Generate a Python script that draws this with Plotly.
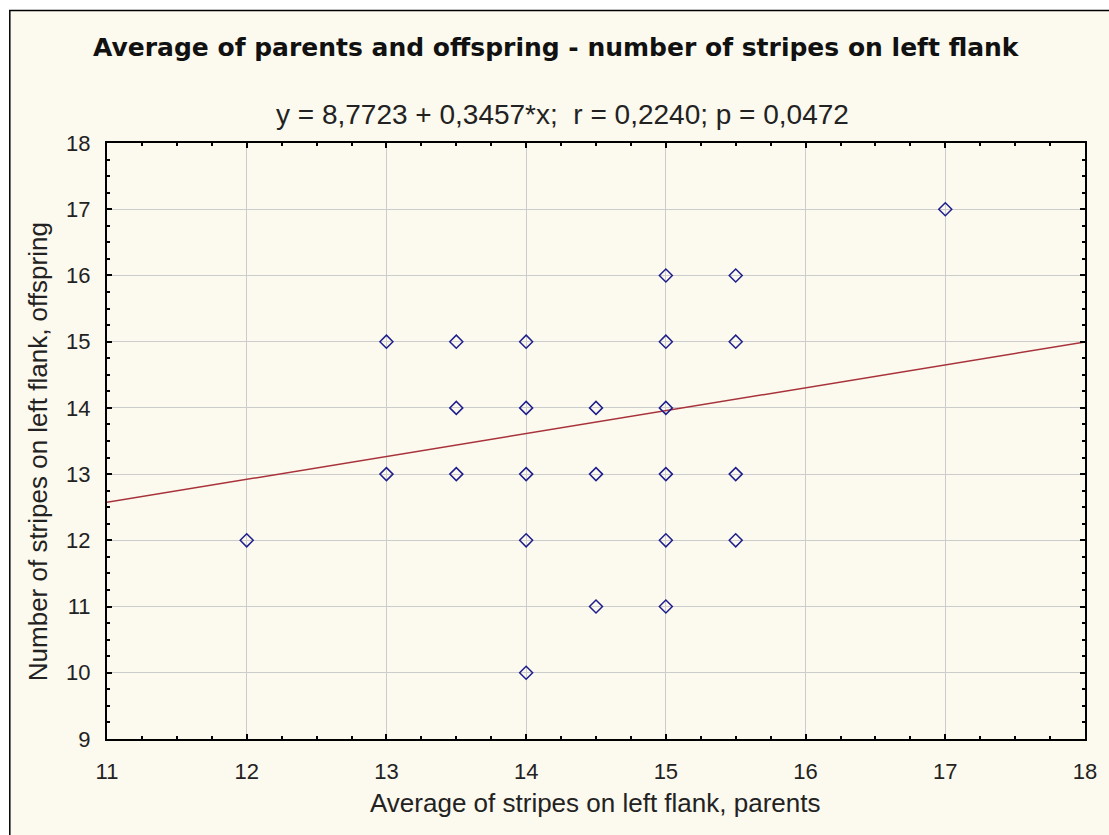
import plotly.graph_objects as go

parents = [12, 13, 13, 13.5, 13.5, 13.5, 14, 14, 14, 14, 14,
           14.5, 14.5, 14.5, 15, 15, 15, 15, 15, 15,
           15.5, 15.5, 15.5, 15.5, 17]
offspring = [12, 15, 13, 15, 14, 13, 15, 14, 13, 12, 10,
             14, 13, 11, 16, 15, 14, 13, 12, 11,
             16, 15, 13, 12, 17]
intercept = 8.7723
slope = 0.3457
line_x = [11, 18]
line_y = [intercept + slope * v for v in line_x]

title = "Average of parents and offspring - number of stripes on left flank"
subtitle = "y = 8,7723 + 0,3457*x;  r = 0,2240; p = 0,0472"
xlab = "Average of stripes on left flank, parents"
ylab = "Number of stripes on left flank, offspring"

bg = "#FCF9EE"
fig = go.Figure()
fig.add_trace(go.Scatter(x=line_x, y=line_y, mode="lines",
                         line=dict(color="#A8323A", width=1.5), hoverinfo="skip"))
fig.add_trace(go.Scatter(x=parents, y=offspring, mode="markers",
                         marker=dict(symbol="diamond-open", size=10,
                                     color="#1E1E8C", line=dict(width=1.5))))

L, R, T, B = 107, 1088, 143, 739
W, H = R - L, B - T
def px(x):
    return (x - L) / W
def py(y):
    return (B - y) / H

fig.add_shape(type="rect", xref="paper", yref="paper",
              x0=px(9.5), x1=px(1125), y0=py(850), y1=py(10.5),
              line=dict(color="black", width=1.5), fillcolor=bg, layer="below")

fig.add_annotation(text="<b>" + title + "</b>", xref="paper", yref="paper",
                   x=px(558), y=py(47), showarrow=False, yanchor="middle",
                   font=dict(family="DejaVu Sans", size=25, color="#111"))
fig.add_annotation(text=subtitle, xref="paper", yref="paper",
                   x=px(564), y=py(115), showarrow=False, yanchor="middle",
                   font=dict(family="Liberation Sans", size=28, color="#222"))
fig.add_annotation(text=xlab, xref="paper", yref="paper",
                   x=px(596), y=py(803), showarrow=False, yanchor="middle",
                   font=dict(family="Liberation Sans", size=26, color="#222"))
fig.add_annotation(text=ylab, xref="paper", yref="paper", textangle=-90,
                   x=px(38), y=py(452), showarrow=False, xanchor="center", yanchor="middle",
                   font=dict(family="Liberation Sans", size=26, color="#222"))

axis_common = dict(showline=True, linecolor="black", linewidth=2, mirror="ticks",
                   ticks="inside", ticklen=5, tickcolor="black", tickwidth=1.5,
                   showgrid=True, gridcolor="#CCCCCC", gridwidth=1, zeroline=False,
                   tickfont=dict(family="Liberation Sans", size=22, color="#222"))
fig.update_xaxes(range=[11, 18], dtick=1, tick0=11, ticklabelstandoff=12,
                 minor=dict(dtick=0.25, ticks="inside", ticklen=3, tickcolor="black", showgrid=False),
                 **axis_common)
fig.update_yaxes(range=[9, 18], dtick=1, tick0=9, ticklabelstandoff=10,
                 minor=dict(dtick=0.25, ticks="inside", ticklen=3, tickcolor="black", showgrid=False),
                 **axis_common)
fig.update_layout(width=1109, height=835, showlegend=False,
                  margin=dict(l=L, r=1109 - R, t=T, b=835 - B),
                  paper_bgcolor="white", plot_bgcolor="white")
fig.write_html("out.html")
